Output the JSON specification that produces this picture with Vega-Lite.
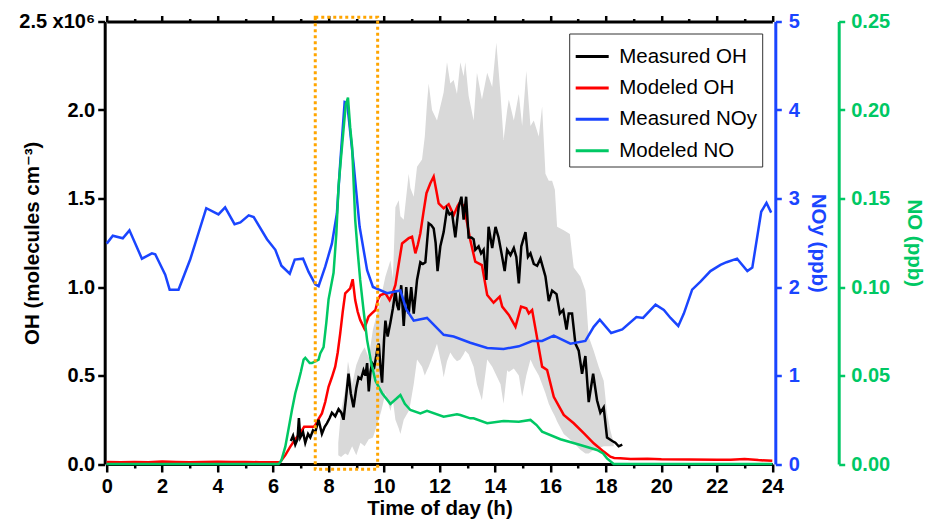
{
  "$schema": "https://vega.github.io/schema/vega-lite/v6.json",
  "width": 665.6,
  "height": 442.5,
  "autosize": {"type": "none"},
  "padding": {"left": 106.7, "top": 21.5, "right": 159.7, "bottom": 62},
  "background": "white",
  "config": {
    "view": {"stroke": null},
    "font": "Liberation Sans, DejaVu Sans",
    "axis": {
      "grid": false,
      "labelFont": "Liberation Sans, DejaVu Sans",
      "titleFont": "Liberation Sans, DejaVu Sans",
      "labelFontSize": 20,
      "labelFontWeight": "bold",
      "titleFontSize": 20.5,
      "titleFontWeight": "bold",
      "domainWidth": 3,
      "tickWidth": 2.5,
      "labelFlush": false,
      "labelOverlap": false
    }
  },
  "datasets": {
    "band": [
      {"h": 8.35, "lo": 0.05, "hi": 0.12},
      {"h": 8.45, "lo": 0.04, "hi": 0.30},
      {"h": 8.6, "lo": 0.06, "hi": 0.42},
      {"h": 8.7, "lo": 0.05, "hi": 0.58},
      {"h": 8.85, "lo": 0.10, "hi": 0.45},
      {"h": 9.0, "lo": 0.05, "hi": 0.56},
      {"h": 9.15, "lo": 0.12, "hi": 0.62},
      {"h": 9.3, "lo": 0.10, "hi": 0.66},
      {"h": 9.45, "lo": 0.14, "hi": 0.60},
      {"h": 9.6, "lo": 0.15, "hi": 0.76},
      {"h": 9.75, "lo": 0.22, "hi": 0.85},
      {"h": 9.9, "lo": 0.30, "hi": 0.95},
      {"h": 10.05, "lo": 0.40, "hi": 1.06},
      {"h": 10.23, "lo": 0.30, "hi": 1.15},
      {"h": 10.32, "lo": 0.36, "hi": 1.05},
      {"h": 10.41, "lo": 0.25, "hi": 1.45},
      {"h": 10.53, "lo": 0.20, "hi": 1.49},
      {"h": 10.59, "lo": 0.17, "hi": 1.40},
      {"h": 10.71, "lo": 0.25, "hi": 1.38},
      {"h": 10.89, "lo": 0.30, "hi": 1.64},
      {"h": 10.95, "lo": 0.34, "hi": 1.56},
      {"h": 11.07, "lo": 0.45, "hi": 1.51},
      {"h": 11.19, "lo": 0.59, "hi": 1.68},
      {"h": 11.37, "lo": 0.55, "hi": 1.72},
      {"h": 11.47, "lo": 0.50, "hi": 1.85},
      {"h": 11.55, "lo": 0.53, "hi": 2.04},
      {"h": 11.61, "lo": 0.55, "hi": 2.15},
      {"h": 11.73, "lo": 0.60, "hi": 2.00},
      {"h": 11.91, "lo": 0.68, "hi": 1.94},
      {"h": 12.09, "lo": 0.55, "hi": 2.06},
      {"h": 12.15, "lo": 0.49, "hi": 2.10},
      {"h": 12.27, "lo": 0.58, "hi": 2.27},
      {"h": 12.39, "lo": 0.63, "hi": 2.15},
      {"h": 12.51, "lo": 0.60, "hi": 2.17},
      {"h": 12.63, "lo": 0.58, "hi": 2.09},
      {"h": 12.75, "lo": 0.59, "hi": 2.27},
      {"h": 12.87, "lo": 0.62, "hi": 2.19},
      {"h": 12.93, "lo": 0.64, "hi": 2.27},
      {"h": 13.05, "lo": 0.62, "hi": 2.08},
      {"h": 13.23, "lo": 0.55, "hi": 1.94},
      {"h": 13.35, "lo": 0.45, "hi": 2.21},
      {"h": 13.53, "lo": 0.36, "hi": 2.06},
      {"h": 13.72, "lo": 0.59, "hi": 2.21},
      {"h": 13.90, "lo": 0.55, "hi": 2.13},
      {"h": 14.05, "lo": 0.50, "hi": 2.38},
      {"h": 14.20, "lo": 0.45, "hi": 2.09},
      {"h": 14.31, "lo": 0.34, "hi": 1.83},
      {"h": 14.44, "lo": 0.53, "hi": 2.00},
      {"h": 14.50, "lo": 0.52, "hi": 2.06},
      {"h": 14.68, "lo": 0.54, "hi": 1.94},
      {"h": 14.86, "lo": 0.50, "hi": 2.09},
      {"h": 14.98, "lo": 0.38, "hi": 1.91},
      {"h": 15.13, "lo": 0.50, "hi": 2.22},
      {"h": 15.28, "lo": 0.59, "hi": 1.91},
      {"h": 15.40, "lo": 0.55, "hi": 1.94},
      {"h": 15.58, "lo": 0.50, "hi": 1.85},
      {"h": 15.70, "lo": 0.45, "hi": 2.02},
      {"h": 15.82, "lo": 0.40, "hi": 1.64},
      {"h": 15.94, "lo": 0.34, "hi": 1.60},
      {"h": 16.06, "lo": 0.30, "hi": 1.60},
      {"h": 16.16, "lo": 0.27, "hi": 1.55},
      {"h": 16.24, "lo": 0.24, "hi": 1.34},
      {"h": 16.48, "lo": 0.17, "hi": 1.32},
      {"h": 16.70, "lo": 0.14, "hi": 1.30},
      {"h": 16.84, "lo": 0.12, "hi": 1.11},
      {"h": 17.08, "lo": 0.08, "hi": 1.06},
      {"h": 17.26, "lo": 0.06, "hi": 0.98},
      {"h": 17.38, "lo": 0.06, "hi": 0.72},
      {"h": 17.56, "lo": 0.08, "hi": 0.64},
      {"h": 17.74, "lo": 0.09, "hi": 0.55},
      {"h": 17.92, "lo": 0.10, "hi": 0.47},
      {"h": 18.04, "lo": 0.10, "hi": 0.29},
      {"h": 18.16, "lo": 0.10, "hi": 0.19},
      {"h": 18.28, "lo": 0.10, "hi": 0.12}
    ],
    "oh": [
      {"s": "Modeled OH", "h": 0, "v": 0.012},
      {"s": "Modeled OH", "h": 0.5, "v": 0.010},
      {"s": "Modeled OH", "h": 1, "v": 0.011},
      {"s": "Modeled OH", "h": 1.5, "v": 0.010},
      {"s": "Modeled OH", "h": 2, "v": 0.014},
      {"s": "Modeled OH", "h": 2.5, "v": 0.012},
      {"s": "Modeled OH", "h": 3, "v": 0.010},
      {"s": "Modeled OH", "h": 3.5, "v": 0.011},
      {"s": "Modeled OH", "h": 4, "v": 0.013},
      {"s": "Modeled OH", "h": 4.5, "v": 0.011},
      {"s": "Modeled OH", "h": 5, "v": 0.012},
      {"s": "Modeled OH", "h": 5.5, "v": 0.010},
      {"s": "Modeled OH", "h": 6, "v": 0.010},
      {"s": "Modeled OH", "h": 6.2, "v": 0.010},
      {"s": "Modeled OH", "h": 6.26, "v": 0.012},
      {"s": "Modeled OH", "h": 6.44, "v": 0.05},
      {"s": "Modeled OH", "h": 6.62, "v": 0.098},
      {"s": "Modeled OH", "h": 6.80, "v": 0.14},
      {"s": "Modeled OH", "h": 6.92, "v": 0.164},
      {"s": "Modeled OH", "h": 7.00, "v": 0.18},
      {"s": "Modeled OH", "h": 7.12, "v": 0.21},
      {"s": "Modeled OH", "h": 7.22, "v": 0.21},
      {"s": "Modeled OH", "h": 7.34, "v": 0.21},
      {"s": "Modeled OH", "h": 7.46, "v": 0.21},
      {"s": "Modeled OH", "h": 7.52, "v": 0.22},
      {"s": "Modeled OH", "h": 7.62, "v": 0.25},
      {"s": "Modeled OH", "h": 7.76, "v": 0.286},
      {"s": "Modeled OH", "h": 7.88, "v": 0.35},
      {"s": "Modeled OH", "h": 8.00, "v": 0.436},
      {"s": "Modeled OH", "h": 8.12, "v": 0.49},
      {"s": "Modeled OH", "h": 8.24, "v": 0.55},
      {"s": "Modeled OH", "h": 8.33, "v": 0.63},
      {"s": "Modeled OH", "h": 8.42, "v": 0.738},
      {"s": "Modeled OH", "h": 8.51, "v": 0.86},
      {"s": "Modeled OH", "h": 8.60, "v": 0.964},
      {"s": "Modeled OH", "h": 8.70, "v": 0.98},
      {"s": "Modeled OH", "h": 8.78, "v": 0.992},
      {"s": "Modeled OH", "h": 8.87, "v": 1.044},
      {"s": "Modeled OH", "h": 8.96, "v": 0.926},
      {"s": "Modeled OH", "h": 9.05, "v": 0.86},
      {"s": "Modeled OH", "h": 9.14, "v": 0.814},
      {"s": "Modeled OH", "h": 9.29, "v": 0.766},
      {"s": "Modeled OH", "h": 9.44, "v": 0.832},
      {"s": "Modeled OH", "h": 9.55, "v": 0.85},
      {"s": "Modeled OH", "h": 9.69, "v": 0.87},
      {"s": "Modeled OH", "h": 9.78, "v": 0.93},
      {"s": "Modeled OH", "h": 9.87, "v": 0.954},
      {"s": "Modeled OH", "h": 10.05, "v": 0.964},
      {"s": "Modeled OH", "h": 10.20, "v": 0.926},
      {"s": "Modeled OH", "h": 10.30, "v": 0.96},
      {"s": "Modeled OH", "h": 10.41, "v": 1.012},
      {"s": "Modeled OH", "h": 10.53, "v": 1.13},
      {"s": "Modeled OH", "h": 10.65, "v": 1.246},
      {"s": "Modeled OH", "h": 10.89, "v": 1.276},
      {"s": "Modeled OH", "h": 11.01, "v": 1.284},
      {"s": "Modeled OH", "h": 11.13, "v": 1.19},
      {"s": "Modeled OH", "h": 11.22, "v": 1.24},
      {"s": "Modeled OH", "h": 11.31, "v": 1.304},
      {"s": "Modeled OH", "h": 11.42, "v": 1.42},
      {"s": "Modeled OH", "h": 11.53, "v": 1.53},
      {"s": "Modeled OH", "h": 11.67, "v": 1.586},
      {"s": "Modeled OH", "h": 11.79, "v": 1.624},
      {"s": "Modeled OH", "h": 11.88, "v": 1.55},
      {"s": "Modeled OH", "h": 11.97, "v": 1.472},
      {"s": "Modeled OH", "h": 12.15, "v": 1.444},
      {"s": "Modeled OH", "h": 12.33, "v": 1.468},
      {"s": "Modeled OH", "h": 12.51, "v": 1.406},
      {"s": "Modeled OH", "h": 12.66, "v": 1.46},
      {"s": "Modeled OH", "h": 12.75, "v": 1.482},
      {"s": "Modeled OH", "h": 12.85, "v": 1.46},
      {"s": "Modeled OH", "h": 12.93, "v": 1.416},
      {"s": "Modeled OH", "h": 13.11, "v": 1.266},
      {"s": "Modeled OH", "h": 13.29, "v": 1.143},
      {"s": "Modeled OH", "h": 13.53, "v": 1.124},
      {"s": "Modeled OH", "h": 13.72, "v": 0.955},
      {"s": "Modeled OH", "h": 13.95, "v": 0.911},
      {"s": "Modeled OH", "h": 14.17, "v": 0.945},
      {"s": "Modeled OH", "h": 14.26, "v": 0.889},
      {"s": "Modeled OH", "h": 14.50, "v": 0.842},
      {"s": "Modeled OH", "h": 14.74, "v": 0.776},
      {"s": "Modeled OH", "h": 14.94, "v": 0.889},
      {"s": "Modeled OH", "h": 15.13, "v": 0.880},
      {"s": "Modeled OH", "h": 15.22, "v": 0.851},
      {"s": "Modeled OH", "h": 15.34, "v": 0.870},
      {"s": "Modeled OH", "h": 15.49, "v": 0.738},
      {"s": "Modeled OH", "h": 15.70, "v": 0.550},
      {"s": "Modeled OH", "h": 15.88, "v": 0.531},
      {"s": "Modeled OH", "h": 16.12, "v": 0.380},
      {"s": "Modeled OH", "h": 16.48, "v": 0.277},
      {"s": "Modeled OH", "h": 16.84, "v": 0.230},
      {"s": "Modeled OH", "h": 17.21, "v": 0.173},
      {"s": "Modeled OH", "h": 17.56, "v": 0.117},
      {"s": "Modeled OH", "h": 17.92, "v": 0.070},
      {"s": "Modeled OH", "h": 18.16, "v": 0.041},
      {"s": "Modeled OH", "h": 18.30, "v": 0.034},
      {"s": "Modeled OH", "h": 18.52, "v": 0.032},
      {"s": "Modeled OH", "h": 18.89, "v": 0.028},
      {"s": "Modeled OH", "h": 19.5, "v": 0.030},
      {"s": "Modeled OH", "h": 20, "v": 0.027},
      {"s": "Modeled OH", "h": 21, "v": 0.025},
      {"s": "Modeled OH", "h": 22, "v": 0.024},
      {"s": "Modeled OH", "h": 22.5, "v": 0.024},
      {"s": "Modeled OH", "h": 23, "v": 0.028},
      {"s": "Modeled OH", "h": 23.5, "v": 0.022},
      {"s": "Modeled OH", "h": 24, "v": 0.018},
      {"s": "Measured OH", "h": 6.64, "v": 0.13},
      {"s": "Measured OH", "h": 6.72, "v": 0.16},
      {"s": "Measured OH", "h": 6.80, "v": 0.11},
      {"s": "Measured OH", "h": 6.88, "v": 0.14},
      {"s": "Measured OH", "h": 6.93, "v": 0.26},
      {"s": "Measured OH", "h": 6.98, "v": 0.15},
      {"s": "Measured OH", "h": 7.08, "v": 0.18},
      {"s": "Measured OH", "h": 7.16, "v": 0.12},
      {"s": "Measured OH", "h": 7.26, "v": 0.17},
      {"s": "Measured OH", "h": 7.34, "v": 0.15},
      {"s": "Measured OH", "h": 7.44, "v": 0.19},
      {"s": "Measured OH", "h": 7.52, "v": 0.18},
      {"s": "Measured OH", "h": 7.64, "v": 0.25},
      {"s": "Measured OH", "h": 7.76, "v": 0.17},
      {"s": "Measured OH", "h": 7.86, "v": 0.21},
      {"s": "Measured OH", "h": 7.94, "v": 0.23},
      {"s": "Measured OH", "h": 8.04, "v": 0.26},
      {"s": "Measured OH", "h": 8.12, "v": 0.29},
      {"s": "Measured OH", "h": 8.24, "v": 0.27},
      {"s": "Measured OH", "h": 8.36, "v": 0.31},
      {"s": "Measured OH", "h": 8.46, "v": 0.29},
      {"s": "Measured OH", "h": 8.54, "v": 0.25},
      {"s": "Measured OH", "h": 8.62, "v": 0.36},
      {"s": "Measured OH", "h": 8.72, "v": 0.51},
      {"s": "Measured OH", "h": 8.80, "v": 0.40},
      {"s": "Measured OH", "h": 8.90, "v": 0.32},
      {"s": "Measured OH", "h": 9.00, "v": 0.43},
      {"s": "Measured OH", "h": 9.08, "v": 0.49},
      {"s": "Measured OH", "h": 9.17, "v": 0.48},
      {"s": "Measured OH", "h": 9.26, "v": 0.53},
      {"s": "Measured OH", "h": 9.33, "v": 0.50},
      {"s": "Measured OH", "h": 9.39, "v": 0.57},
      {"s": "Measured OH", "h": 9.45, "v": 0.41},
      {"s": "Measured OH", "h": 9.51, "v": 0.52},
      {"s": "Measured OH", "h": 9.57, "v": 0.57},
      {"s": "Measured OH", "h": 9.65, "v": 0.55},
      {"s": "Measured OH", "h": 9.72, "v": 0.61},
      {"s": "Measured OH", "h": 9.77, "v": 0.66},
      {"s": "Measured OH", "h": 9.81, "v": 0.68},
      {"s": "Measured OH", "h": 9.87, "v": 0.55},
      {"s": "Measured OH", "h": 9.93, "v": 0.46},
      {"s": "Measured OH", "h": 10.00, "v": 0.70},
      {"s": "Measured OH", "h": 10.05, "v": 0.81},
      {"s": "Measured OH", "h": 10.13, "v": 0.72},
      {"s": "Measured OH", "h": 10.23, "v": 0.80},
      {"s": "Measured OH", "h": 10.32, "v": 0.88},
      {"s": "Measured OH", "h": 10.41, "v": 0.98},
      {"s": "Measured OH", "h": 10.47, "v": 0.90},
      {"s": "Measured OH", "h": 10.53, "v": 0.87},
      {"s": "Measured OH", "h": 10.62, "v": 1.01},
      {"s": "Measured OH", "h": 10.71, "v": 0.78},
      {"s": "Measured OH", "h": 10.80, "v": 1.00},
      {"s": "Measured OH", "h": 10.89, "v": 0.85},
      {"s": "Measured OH", "h": 10.98, "v": 1.00},
      {"s": "Measured OH", "h": 11.07, "v": 0.85},
      {"s": "Measured OH", "h": 11.19, "v": 1.04},
      {"s": "Measured OH", "h": 11.31, "v": 1.14},
      {"s": "Measured OH", "h": 11.40, "v": 1.13},
      {"s": "Measured OH", "h": 11.49, "v": 1.14},
      {"s": "Measured OH", "h": 11.55, "v": 1.25},
      {"s": "Measured OH", "h": 11.61, "v": 1.36},
      {"s": "Measured OH", "h": 11.70, "v": 1.35},
      {"s": "Measured OH", "h": 11.79, "v": 1.33},
      {"s": "Measured OH", "h": 11.86, "v": 1.25},
      {"s": "Measured OH", "h": 11.93, "v": 1.09},
      {"s": "Measured OH", "h": 12.03, "v": 1.23},
      {"s": "Measured OH", "h": 12.15, "v": 1.31},
      {"s": "Measured OH", "h": 12.27, "v": 1.44},
      {"s": "Measured OH", "h": 12.36, "v": 1.41},
      {"s": "Measured OH", "h": 12.45, "v": 1.42},
      {"s": "Measured OH", "h": 12.57, "v": 1.28},
      {"s": "Measured OH", "h": 12.69, "v": 1.45},
      {"s": "Measured OH", "h": 12.79, "v": 1.51},
      {"s": "Measured OH", "h": 12.87, "v": 1.38},
      {"s": "Measured OH", "h": 12.96, "v": 1.51},
      {"s": "Measured OH", "h": 13.05, "v": 1.28},
      {"s": "Measured OH", "h": 13.15, "v": 1.28},
      {"s": "Measured OH", "h": 13.23, "v": 1.27},
      {"s": "Measured OH", "h": 13.29, "v": 1.21},
      {"s": "Measured OH", "h": 13.41, "v": 1.23},
      {"s": "Measured OH", "h": 13.50, "v": 1.19},
      {"s": "Measured OH", "h": 13.59, "v": 1.21},
      {"s": "Measured OH", "h": 13.69, "v": 1.04},
      {"s": "Measured OH", "h": 13.77, "v": 1.34},
      {"s": "Measured OH", "h": 13.90, "v": 1.22},
      {"s": "Measured OH", "h": 14.02, "v": 1.34},
      {"s": "Measured OH", "h": 14.13, "v": 1.28},
      {"s": "Measured OH", "h": 14.26, "v": 1.17},
      {"s": "Measured OH", "h": 14.35, "v": 1.09},
      {"s": "Measured OH", "h": 14.44, "v": 1.21},
      {"s": "Measured OH", "h": 14.56, "v": 1.18},
      {"s": "Measured OH", "h": 14.68, "v": 1.22},
      {"s": "Measured OH", "h": 14.77, "v": 1.17},
      {"s": "Measured OH", "h": 14.86, "v": 1.02},
      {"s": "Measured OH", "h": 14.95, "v": 1.23},
      {"s": "Measured OH", "h": 15.10, "v": 1.31},
      {"s": "Measured OH", "h": 15.19, "v": 1.17},
      {"s": "Measured OH", "h": 15.28, "v": 1.19},
      {"s": "Measured OH", "h": 15.40, "v": 1.13},
      {"s": "Measured OH", "h": 15.52, "v": 1.12},
      {"s": "Measured OH", "h": 15.64, "v": 1.16},
      {"s": "Measured OH", "h": 15.82, "v": 1.06},
      {"s": "Measured OH", "h": 15.94, "v": 0.92},
      {"s": "Measured OH", "h": 16.06, "v": 0.98},
      {"s": "Measured OH", "h": 16.22, "v": 0.96},
      {"s": "Measured OH", "h": 16.34, "v": 0.85},
      {"s": "Measured OH", "h": 16.46, "v": 0.87},
      {"s": "Measured OH", "h": 16.58, "v": 0.76},
      {"s": "Measured OH", "h": 16.66, "v": 0.85},
      {"s": "Measured OH", "h": 16.78, "v": 0.85},
      {"s": "Measured OH", "h": 16.90, "v": 0.68},
      {"s": "Measured OH", "h": 17.02, "v": 0.64},
      {"s": "Measured OH", "h": 17.14, "v": 0.51},
      {"s": "Measured OH", "h": 17.26, "v": 0.61},
      {"s": "Measured OH", "h": 17.38, "v": 0.35},
      {"s": "Measured OH", "h": 17.54, "v": 0.51},
      {"s": "Measured OH", "h": 17.68, "v": 0.36},
      {"s": "Measured OH", "h": 17.80, "v": 0.29},
      {"s": "Measured OH", "h": 17.92, "v": 0.32},
      {"s": "Measured OH", "h": 18.04, "v": 0.15},
      {"s": "Measured OH", "h": 18.23, "v": 0.13},
      {"s": "Measured OH", "h": 18.34, "v": 0.12},
      {"s": "Measured OH", "h": 18.46, "v": 0.10},
      {"s": "Measured OH", "h": 18.59, "v": 0.11}
    ],
    "noy": [
      {"s": "Measured NOy", "h": 0.00, "v": 2.49},
      {"s": "Measured NOy", "h": 0.22, "v": 2.58},
      {"s": "Measured NOy", "h": 0.58, "v": 2.55},
      {"s": "Measured NOy", "h": 0.82, "v": 2.64},
      {"s": "Measured NOy", "h": 1.27, "v": 2.32},
      {"s": "Measured NOy", "h": 1.63, "v": 2.38},
      {"s": "Measured NOy", "h": 1.75, "v": 2.37},
      {"s": "Measured NOy", "h": 2.11, "v": 2.14},
      {"s": "Measured NOy", "h": 2.27, "v": 1.97},
      {"s": "Measured NOy", "h": 2.59, "v": 1.97},
      {"s": "Measured NOy", "h": 3.01, "v": 2.31},
      {"s": "Measured NOy", "h": 3.59, "v": 2.89},
      {"s": "Measured NOy", "h": 4.03, "v": 2.82},
      {"s": "Measured NOy", "h": 4.27, "v": 2.90},
      {"s": "Measured NOy", "h": 4.61, "v": 2.71},
      {"s": "Measured NOy", "h": 4.82, "v": 2.73},
      {"s": "Measured NOy", "h": 5.12, "v": 2.81},
      {"s": "Measured NOy", "h": 5.30, "v": 2.79},
      {"s": "Measured NOy", "h": 5.78, "v": 2.54},
      {"s": "Measured NOy", "h": 6.08, "v": 2.42},
      {"s": "Measured NOy", "h": 6.30, "v": 2.24},
      {"s": "Measured NOy", "h": 6.60, "v": 2.15},
      {"s": "Measured NOy", "h": 6.78, "v": 2.31},
      {"s": "Measured NOy", "h": 7.08, "v": 2.32},
      {"s": "Measured NOy", "h": 7.28, "v": 2.17},
      {"s": "Measured NOy", "h": 7.52, "v": 2.03},
      {"s": "Measured NOy", "h": 7.64, "v": 2.01},
      {"s": "Measured NOy", "h": 7.88, "v": 2.23},
      {"s": "Measured NOy", "h": 8.12, "v": 2.49},
      {"s": "Measured NOy", "h": 8.30, "v": 2.83},
      {"s": "Measured NOy", "h": 8.42, "v": 3.40},
      {"s": "Measured NOy", "h": 8.58, "v": 4.09},
      {"s": "Measured NOy", "h": 8.67, "v": 4.08},
      {"s": "Measured NOy", "h": 8.90, "v": 3.40},
      {"s": "Measured NOy", "h": 9.12, "v": 2.68},
      {"s": "Measured NOy", "h": 9.39, "v": 2.19},
      {"s": "Measured NOy", "h": 9.60, "v": 2.00},
      {"s": "Measured NOy", "h": 10.11, "v": 1.93},
      {"s": "Measured NOy", "h": 10.59, "v": 1.96},
      {"s": "Measured NOy", "h": 10.80, "v": 1.75},
      {"s": "Measured NOy", "h": 11.07, "v": 1.62},
      {"s": "Measured NOy", "h": 11.55, "v": 1.65},
      {"s": "Measured NOy", "h": 12.15, "v": 1.46},
      {"s": "Measured NOy", "h": 12.51, "v": 1.44},
      {"s": "Measured NOy", "h": 13.11, "v": 1.37},
      {"s": "Measured NOy", "h": 13.72, "v": 1.31},
      {"s": "Measured NOy", "h": 14.31, "v": 1.30},
      {"s": "Measured NOy", "h": 14.86, "v": 1.33},
      {"s": "Measured NOy", "h": 15.34, "v": 1.39},
      {"s": "Measured NOy", "h": 15.70, "v": 1.39},
      {"s": "Measured NOy", "h": 16.12, "v": 1.45},
      {"s": "Measured NOy", "h": 16.72, "v": 1.36},
      {"s": "Measured NOy", "h": 17.26, "v": 1.39},
      {"s": "Measured NOy", "h": 17.56, "v": 1.55},
      {"s": "Measured NOy", "h": 17.78, "v": 1.63},
      {"s": "Measured NOy", "h": 18.19, "v": 1.48},
      {"s": "Measured NOy", "h": 18.59, "v": 1.52},
      {"s": "Measured NOy", "h": 19.10, "v": 1.66},
      {"s": "Measured NOy", "h": 19.34, "v": 1.65},
      {"s": "Measured NOy", "h": 19.79, "v": 1.80},
      {"s": "Measured NOy", "h": 20.09, "v": 1.74},
      {"s": "Measured NOy", "h": 20.33, "v": 1.65},
      {"s": "Measured NOy", "h": 20.61, "v": 1.56},
      {"s": "Measured NOy", "h": 20.81, "v": 1.70},
      {"s": "Measured NOy", "h": 21.11, "v": 1.97},
      {"s": "Measured NOy", "h": 21.41, "v": 2.06},
      {"s": "Measured NOy", "h": 21.77, "v": 2.18},
      {"s": "Measured NOy", "h": 22.13, "v": 2.25},
      {"s": "Measured NOy", "h": 22.35, "v": 2.28},
      {"s": "Measured NOy", "h": 22.73, "v": 2.32},
      {"s": "Measured NOy", "h": 23.10, "v": 2.18},
      {"s": "Measured NOy", "h": 23.28, "v": 2.22},
      {"s": "Measured NOy", "h": 23.60, "v": 2.85},
      {"s": "Measured NOy", "h": 23.79, "v": 2.95},
      {"s": "Measured NOy", "h": 23.96, "v": 2.84}
    ],
    "no": [
      {"s": "Modeled NO", "h": 0, "v": 0},
      {"s": "Modeled NO", "h": 6.2, "v": 0},
      {"s": "Modeled NO", "h": 6.30, "v": 0.002},
      {"s": "Modeled NO", "h": 6.44, "v": 0.0098},
      {"s": "Modeled NO", "h": 6.56, "v": 0.02},
      {"s": "Modeled NO", "h": 6.68, "v": 0.0305},
      {"s": "Modeled NO", "h": 6.80, "v": 0.040},
      {"s": "Modeled NO", "h": 6.92, "v": 0.047},
      {"s": "Modeled NO", "h": 7.00, "v": 0.052},
      {"s": "Modeled NO", "h": 7.10, "v": 0.059},
      {"s": "Modeled NO", "h": 7.16, "v": 0.060},
      {"s": "Modeled NO", "h": 7.32, "v": 0.057},
      {"s": "Modeled NO", "h": 7.40, "v": 0.057},
      {"s": "Modeled NO", "h": 7.52, "v": 0.058},
      {"s": "Modeled NO", "h": 7.64, "v": 0.059},
      {"s": "Modeled NO", "h": 7.70, "v": 0.0625},
      {"s": "Modeled NO", "h": 7.82, "v": 0.066},
      {"s": "Modeled NO", "h": 7.92, "v": 0.080},
      {"s": "Modeled NO", "h": 8.00, "v": 0.093},
      {"s": "Modeled NO", "h": 8.18, "v": 0.108},
      {"s": "Modeled NO", "h": 8.28, "v": 0.13},
      {"s": "Modeled NO", "h": 8.36, "v": 0.157},
      {"s": "Modeled NO", "h": 8.46, "v": 0.175},
      {"s": "Modeled NO", "h": 8.54, "v": 0.189},
      {"s": "Modeled NO", "h": 8.62, "v": 0.203},
      {"s": "Modeled NO", "h": 8.70, "v": 0.207},
      {"s": "Modeled NO", "h": 8.78, "v": 0.19},
      {"s": "Modeled NO", "h": 8.85, "v": 0.179},
      {"s": "Modeled NO", "h": 8.96, "v": 0.138},
      {"s": "Modeled NO", "h": 9.05, "v": 0.12},
      {"s": "Modeled NO", "h": 9.14, "v": 0.104},
      {"s": "Modeled NO", "h": 9.26, "v": 0.087},
      {"s": "Modeled NO", "h": 9.39, "v": 0.070},
      {"s": "Modeled NO", "h": 9.54, "v": 0.057},
      {"s": "Modeled NO", "h": 9.69, "v": 0.047},
      {"s": "Modeled NO", "h": 9.93, "v": 0.040},
      {"s": "Modeled NO", "h": 10.23, "v": 0.034},
      {"s": "Modeled NO", "h": 10.45, "v": 0.037},
      {"s": "Modeled NO", "h": 10.59, "v": 0.039},
      {"s": "Modeled NO", "h": 10.75, "v": 0.034},
      {"s": "Modeled NO", "h": 10.95, "v": 0.0305},
      {"s": "Modeled NO", "h": 11.31, "v": 0.0286},
      {"s": "Modeled NO", "h": 11.55, "v": 0.030},
      {"s": "Modeled NO", "h": 12.15, "v": 0.0267},
      {"s": "Modeled NO", "h": 12.63, "v": 0.0281},
      {"s": "Modeled NO", "h": 12.75, "v": 0.0277},
      {"s": "Modeled NO", "h": 13.11, "v": 0.0258},
      {"s": "Modeled NO", "h": 13.23, "v": 0.0258},
      {"s": "Modeled NO", "h": 13.72, "v": 0.023},
      {"s": "Modeled NO", "h": 14.31, "v": 0.0243},
      {"s": "Modeled NO", "h": 14.86, "v": 0.0239},
      {"s": "Modeled NO", "h": 15.28, "v": 0.0249},
      {"s": "Modeled NO", "h": 15.50, "v": 0.022},
      {"s": "Modeled NO", "h": 15.70, "v": 0.0183},
      {"s": "Modeled NO", "h": 16.36, "v": 0.0140},
      {"s": "Modeled NO", "h": 17.08, "v": 0.0107},
      {"s": "Modeled NO", "h": 17.68, "v": 0.0079},
      {"s": "Modeled NO", "h": 17.90, "v": 0.006},
      {"s": "Modeled NO", "h": 18.04, "v": 0.0032},
      {"s": "Modeled NO", "h": 18.28, "v": 0.0},
      {"s": "Modeled NO", "h": 24, "v": 0.0}
    ],
    "box": [
      {"x1": 7.52, "x2": 9.77, "y1": -0.03, "y2": 2.524}
    ]
  },
  "layer": [
    {
      "data": {"name": "band"},
      "mark": {"type": "area", "color": "#D9D9D9", "opacity": 1},
      "encoding": {
        "x": {
          "field": "h", "type": "quantitative",
          "scale": {"domain": [0, 24], "nice": false, "zero": false},
          "axis": {
            "orient": "bottom",
            "values": [0,1,2,3,4,5,6,7,8,9,10,11,12,13,14,15,16,17,18,19,20,21,22,23,24],
            "labelExpr": "datum.value % 2 === 0 ? datum.label : ''",
            "tickSize": {"condition": {"test": "datum.value % 2 === 0", "value": 8}, "value": 4},
            "domainColor": "black", "tickColor": "black", "labelColor": "black",
            "labelPadding": 4,
            "title": "Time of day (h)", "titleColor": "black", "titlePadding": 2
          }
        },
        "y": {
          "field": "hi", "type": "quantitative",
          "scale": {"domain": [0, 2.5], "nice": false, "zero": false},
          "axis": {
            "orient": "left",
            "offset": 2,
            "values": [0, 0.5, 1, 1.5, 2, 2.5],
            "labelExpr": "datum.value === 2.5 ? '2.5 x10⁶' : format(datum.value, '.1f')",
            "domainColor": "black", "tickColor": "black", "labelColor": "black",
            "tickSize": 7, "labelPadding": 3,
            "title": "OH (molecules cm⁻³)", "titleColor": "black",
            "titleX": -66.5, "titleBaseline": "alphabetic"
          }
        },
        "y2": {"field": "lo"}
      }
    },
    {
      "data": {"name": "oh"},
      "mark": {"type": "line", "strokeWidth": 2.5},
      "encoding": {
        "x": {"field": "h", "type": "quantitative", "scale": {"domain": [0, 24], "nice": false, "zero": false}, "axis": null},
        "y": {"field": "v", "type": "quantitative", "scale": {"domain": [0, 2.5], "nice": false, "zero": false}, "axis": null},
        "color": {
          "field": "s", "type": "nominal",
          "scale": {
            "domain": ["Measured OH", "Modeled OH", "Measured NOy", "Modeled NO"],
            "range": ["#000000", "#FF0000", "#1A45FF", "#00C864"]
          },
          "legend": {
            "title": null,
            "orient": "none",
            "legendX": 462.5,
            "legendY": 12,
            "direction": "vertical",
            "strokeColor": "#333333",
            "fillColor": "white",
            "padding": 5,
            "symbolType": "stroke",
            "symbolStrokeWidth": 3,
            "symbolSize": 1089,
            "labelFont": "Liberation Sans, DejaVu Sans",
            "labelFontSize": 20.5,
            "labelColor": "black",
            "labelOffset": 9,
            "labelLimit": 300,
            "rowPadding": 2.4
          }
        },
        "order": {"field": "h", "type": "quantitative"}
      }
    },
    {
      "data": {"name": "noy"},
      "mark": {"type": "line", "strokeWidth": 2.5},
      "encoding": {
        "x": {
          "field": "h", "type": "quantitative",
          "scale": {"domain": [0, 24], "nice": false, "zero": false},
          "axis": {
            "orient": "top",
            "values": [0,1,2,3,4,5,6,7,8,9,10,11,12,13,14,15,16,17,18,19,20,21,22,23,24],
            "labels": false,
            "title": null,
            "tickSize": {"condition": {"test": "datum.value % 2 === 0", "value": 6}, "value": 3},
            "domainColor": "black", "tickColor": "black"
          }
        },
        "y": {
          "field": "v", "type": "quantitative",
          "scale": {"domain": [0, 5], "nice": false, "zero": false},
          "axis": {
            "orient": "right",
            "offset": 3,
            "values": [0, 1, 2, 3, 4, 5],
            "format": "d",
            "domainColor": "#1A45FF", "tickColor": "#1A45FF", "labelColor": "#1A45FF",
            "tickSize": 6, "labelPadding": 7,
            "title": "NOy (ppb)", "titleColor": "#1A45FF",
            "titleX": 36, "titleBaseline": "alphabetic"
          }
        },
        "color": {"field": "s", "type": "nominal"}
      }
    },
    {
      "data": {"name": "no"},
      "mark": {"type": "line", "strokeWidth": 2.5},
      "encoding": {
        "x": {"field": "h", "type": "quantitative", "scale": {"domain": [0, 24], "nice": false, "zero": false}, "axis": null},
        "y": {
          "field": "v", "type": "quantitative",
          "scale": {"domain": [0, 0.25], "nice": false, "zero": false},
          "axis": {
            "orient": "right",
            "offset": 66.4,
            "values": [0, 0.05, 0.1, 0.15, 0.2, 0.25],
            "format": ".2f",
            "domainColor": "#00C864", "tickColor": "#00C864", "labelColor": "#00C864",
            "tickSize": 6, "labelPadding": 6,
            "title": "NO (ppb)", "titleColor": "#00C864",
            "titleX": 69, "titleBaseline": "alphabetic"
          }
        },
        "color": {"field": "s", "type": "nominal"}
      }
    },
    {
      "data": {"name": "box"},
      "mark": {"type": "rect", "filled": false, "stroke": "#FFA500", "strokeWidth": 3, "strokeDash": [3, 3], "clip": false},
      "encoding": {
        "x": {"field": "x1", "type": "quantitative", "scale": {"domain": [0, 24], "nice": false, "zero": false}, "axis": null},
        "x2": {"field": "x2"},
        "y": {"field": "y1", "type": "quantitative", "scale": {"domain": [0, 2.5], "nice": false, "zero": false}, "axis": null},
        "y2": {"field": "y2"}
      }
    }
  ],
  "resolve": {
    "scale": {"y": "independent"},
    "axis": {"x": "independent", "y": "independent"}
  }
}
